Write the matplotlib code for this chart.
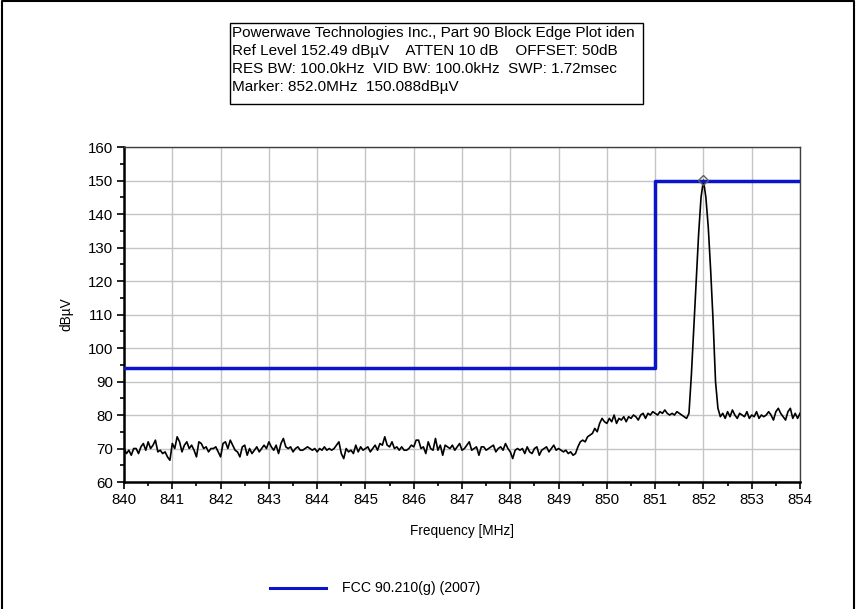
import numpy as np
import matplotlib
matplotlib.use("Agg")
import matplotlib.pyplot as plt
from matplotlib.lines import Line2D
from matplotlib.patches import Rectangle

plt.rcParams['font.family'] = ['Liberation Sans', 'DejaVu Sans']

# sweep: 840.00 .. 854.00 MHz in 50 kHz steps, one row per MHz
F_START = 840.0
F_STEP = 0.05
trace_840 = [70, 68.5, 69.5, 68, 70, 70, 68.5, 70.5, 71.5, 69.5, 72, 70, 71, 72.5, 69, 69.5, 68.5, 69, 67.5, 66.5]
trace_841 = [71.5, 70, 73.5, 72, 69, 71, 72, 70, 71, 69.5, 67.5, 72, 71.5, 70, 70.5, 69, 70, 70, 70.5, 69]
trace_842 = [67.5, 71.5, 72, 70, 72.5, 71, 69.5, 69, 67.5, 70.5, 71, 68, 70, 68.5, 69.5, 70.5, 69, 70, 71, 70]
trace_843 = [72, 70.5, 69.5, 71, 68.5, 71.5, 73, 70.5, 70, 70.5, 69, 70, 70.5, 69.5, 69.5, 70, 70.5, 70, 69.5, 70]
trace_844 = [69, 70, 69.5, 70.5, 69.5, 70, 69.5, 70, 71, 72, 68.5, 67, 70, 69, 69.5, 68.5, 71, 69, 70.5, 69.5]
trace_845 = [70, 70.5, 69, 70, 71, 69.5, 71.5, 71, 73.5, 71, 70.5, 72, 70, 70.5, 69.5, 70.5, 69.5, 69.5, 70, 71]
trace_846 = [70.5, 72.5, 72.5, 70, 70.5, 68.5, 72, 70, 69.5, 73, 69.5, 71, 68, 71, 70.5, 70, 71, 69.5, 70.5, 71.5]
trace_847 = [69.5, 70, 71, 72, 69.5, 70, 70.5, 68, 70.5, 70.5, 69.5, 70, 70.5, 71, 69, 70, 70.5, 69.5, 71.5, 70]
trace_848 = [69, 67, 69.5, 70, 69.5, 70, 68.5, 70.5, 69, 68.5, 70, 70.5, 68, 69.5, 70, 70.5, 69, 70, 71, 69.5]
trace_849 = [70, 69.5, 69, 69.5, 68.5, 69, 68, 68.5, 70.5, 72, 72.5, 72, 73.5, 74, 74.5, 76, 75, 77.5, 79, 78]
trace_850 = [77.5, 79, 78, 80, 77.5, 79, 78.5, 79.5, 78, 79.5, 79, 80, 79.5, 78.5, 80, 80.5, 79, 80.5, 80, 81]
trace_851 = [80.5, 80, 81, 80.5, 81.5, 80.5, 80, 80.5, 80, 81, 80.5, 80, 79.5, 79, 80.5, 92, 106, 120, 134, 145]
trace_852 = [150.088, 145, 136, 123, 108, 90, 82, 79.5, 80.5, 79, 81, 79.5, 81.5, 80, 79, 80.5, 80, 79.5, 81, 79]
trace_853 = [80, 79.5, 81, 79, 80, 79.5, 80, 81, 80, 78.5, 81, 82, 80.5, 79.5, 78.5, 81, 82, 79, 80.5, 79]
trace_854 = [80.5]

# FCC 90.210(g) block edge mask
mask_freq = [840, 851, 851, 854]
mask_level = [94, 94, 150, 150]

marker_freq = 852.0
marker_level = 150.088

header_lines = [
    "Powerwave Technologies Inc., Part 90 Block Edge Plot iden",
    "Ref Level 152.49 dB\u00b5V    ATTEN 10 dB    OFFSET: 50dB",
    "RES BW: 100.0kHz  VID BW: 100.0kHz  SWP: 1.72msec",
    "Marker: 852.0MHz  150.088dB\u00b5V",
]

trace = (trace_840 + trace_841 + trace_842 + trace_843 + trace_844 + trace_845 + trace_846
         + trace_847 + trace_848 + trace_849 + trace_850 + trace_851 + trace_852 + trace_853 + trace_854)
freq = F_START + F_STEP * np.arange(len(trace))

fig = plt.figure(figsize=(8.56, 6.09), dpi=100)
ax = fig.add_axes([0.1449, 0.2085, 0.7897, 0.5501])

ax.plot(freq, trace, color='black', lw=1.2, zorder=3)
ax.plot(mask_freq, mask_level, color='#0a14c8', lw=2.5, zorder=4)
ax.plot([marker_freq], [marker_level], marker='D', ms=5, mfc='none', mec='#606060', mew=1, zorder=5)

ax.set_xlim(840, 854)
ax.set_ylim(60, 160)
ax.set_xticks(np.arange(840, 855, 1))
ax.set_xticks(np.arange(840, 854.5, 0.5), minor=True)
ax.set_yticks(np.arange(60, 161, 10))
ax.set_yticks(np.arange(60, 161, 5), minor=True)
ax.grid(True, which='major', color='#c4c4c4', lw=1.0, zorder=0)
ax.tick_params(which='major', direction='out', length=5, width=1.2, labelsize=10.8, pad=3)
ax.tick_params(which='minor', direction='out', length=3, width=1.2)
for side in ['left', 'bottom']:
    ax.spines[side].set_linewidth(1.8)
for side in ['top', 'right']:
    ax.spines[side].set_linewidth(1.0)
    ax.spines[side].set_color('#404040')

ax.set_xlabel("Frequency [MHz]", fontsize=9.8, labelpad=12)
ax.set_ylabel("dB\u00b5V", fontsize=9.8, labelpad=10)

# header box above the plot
fig.patches.append(Rectangle((230 / 856, 1 - 104 / 609), 413 / 856, 81 / 609,
                             transform=fig.transFigure, fill=False, ec='black', lw=1.0))
for i, line in enumerate(header_lines):
    fig.text(232 / 856, 1 - (33 + 18 * i) / 609, line, fontsize=11, va='center', ha='left')

# legend entry
fig.add_artist(Line2D([270 / 856, 326 / 856], [1 - 588 / 609, 1 - 588 / 609],
                      transform=fig.transFigure, color='#0a14c8', lw=2.2))
fig.text(342 / 856, 1 - 588 / 609, "FCC 90.210(g) (2007)", fontsize=10.2, va='center', ha='left')

# outer frame
fig.add_artist(Line2D([0.002, 0.002, 0.998, 0.998], [0.0, 0.998, 0.998, 0.0],
                      transform=fig.transFigure, color='black', lw=1.5))

fig.savefig("out.png", dpi=100)
